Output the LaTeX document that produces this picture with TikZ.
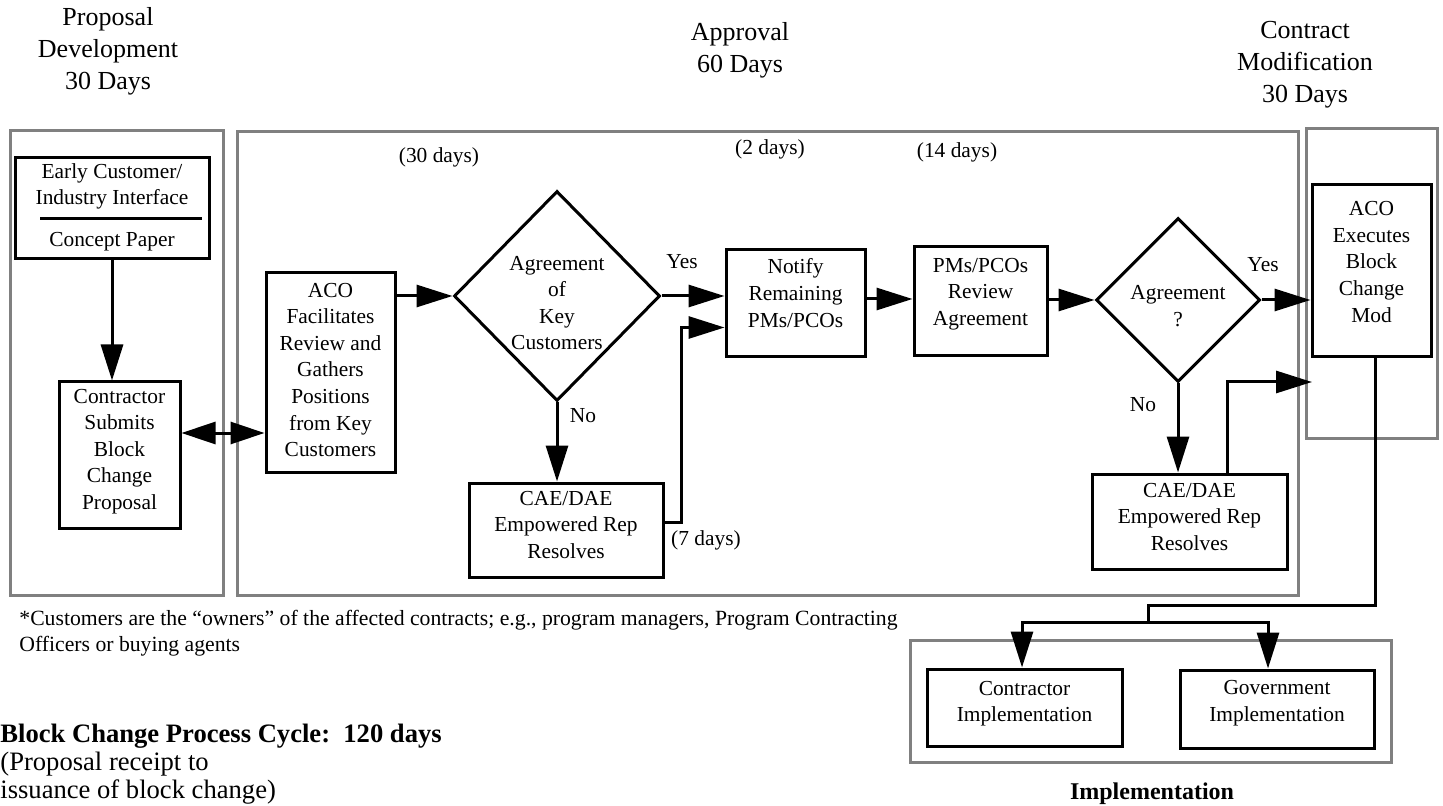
\documentclass[tikz,border=0pt]{standalone}
\usepackage{fontspec}
\setmainfont{Liberation Serif}
\usetikzlibrary{arrows.meta,shapes.geometric,calc}
\definecolor{grp}{RGB}{128,128,128}
\begin{document}
\begin{tikzpicture}[x=0.5pt,y=-0.5pt,
  box/.style={draw,line width=1.5pt,inner sep=0pt,rectangle},
  dia/.style={draw,line width=1.5pt,inner sep=0pt,diamond},
  txt/.style={inner sep=0pt,align=center,font=\fontsize{10.7}{13.3}\selectfont},
  head/.style={inner sep=0pt,align=center,font=\fontsize{13}{16}\selectfont},
  grpbox/.style={draw=grp,line width=1.5pt},
  arr/.style={line width=1.5pt,-{Triangle[length=18pt,width=11pt]}},
  dblarr/.style={line width=1.5pt,{Triangle[length=17pt,width=11pt]}-{Triangle[length=17pt,width=11pt]}},
  ln/.style={line width=1.5pt},
  note/.style={inner sep=0pt,anchor=west}]
\useasboundingbox (0,0) rectangle (1443,806);

% headings
\node[head] (h1) at (108,51) {Proposal\\Development\\30 Days};
\node[head] (h2) at (740,50) {Approval\\60 Days};
\node[head] (h3) at (1305,65) {Contract\\Modification\\30 Days};

% group frames
\draw[grpbox] (10,131) rectangle (223,595);
\draw[grpbox] (237,132) rectangle (1298,595);
\draw[grpbox] (1306,129) rectangle (1437,438);
\draw[grpbox] (910,640) rectangle (1391,762);

% boxes
\node[box,minimum width=97pt,minimum height=50.5pt] (early) at (112,208.5) {};
\node[txt] (earlyT) at (112,207.5) {Early Customer/\\Industry Interface\\[7.7pt]Concept Paper};
\draw[ln] (40,219) -- (202,219);

\node[box,minimum width=60.5pt,minimum height=73pt] (contr) at (119.5,455) {};
\node[txt] (contrT) at (119.5,451.5) {Contractor\\Submits\\Block\\Change\\Proposal};

\node[box,minimum width=64.5pt,minimum height=99.5pt] (aco) at (330.5,372.5) {};
\node[txt] (acoT) at (330.5,370) {ACO\\Facilitates\\Review and\\Gathers\\Positions\\from Key\\Customers};

\node[dia,minimum width=103pt,minimum height=105pt] (d1) at (557,296) {};
\node[txt] (d1T) at (557,303) {Agreement\\of\\Key\\Customers};

\node[box,minimum width=69.5pt,minimum height=53.5pt] (notify) at (795.5,303.5) {};
\node[txt] (notifyT) at (795.5,293) {Notify\\Remaining\\PMs/PCOs};

\node[box,minimum width=66.5pt,minimum height=54.5pt] (pms) at (980.5,301.5) {};
\node[txt] (pmsT) at (980.5,294) {PMs/PCOs\\Review\\Agreement};

\node[dia,minimum width=82pt,minimum height=82pt] (d2) at (1178,300) {};
\node[txt] (d2T) at (1178,306) {Agreement\\?};

\node[box,minimum width=59.5pt,minimum height=86pt] (acoX) at (1371.5,271) {};
\node[txt] (acoXT) at (1371.5,262) {ACO\\Executes\\Block\\Change\\Mod};

\node[box,minimum width=97pt,minimum height=47pt] (cae1) at (566,530) {};
\node[txt] (cae1T) at (566,525) {CAE/DAE\\Empowered Rep\\Resolves};

\node[box,minimum width=97.5pt,minimum height=47.5pt] (cae2) at (1189.5,521.5) {};
\node[txt] (cae2T) at (1189.5,517) {CAE/DAE\\Empowered Rep\\Resolves};

\node[box,minimum width=97.5pt,minimum height=38.5pt] (cimpl) at (1024.5,707.5) {};
\node[txt] (cimplT) at (1024.5,703.5) {Contractor\\Implementation};

\node[box,minimum width=97pt,minimum height=39pt] (gimpl) at (1277,709) {};
\node[txt] (gimplT) at (1277,703) {Government\\Implementation};

% labels
\node[txt] (y1) at (682,262) {Yes};
\node[txt] (n1) at (583,416) {No};
\node[txt] (y2) at (1263,265) {Yes};
\node[txt] (n2) at (1143,405) {No};
\node[txt] (t30) at (439,157) {(30 days)};
\node[txt] (t2) at (770,149) {(2 days)};
\node[txt] (t14) at (957,152) {(14 days)};
\node[txt] (t7) at (706,540) {(7 days)};

% connectors
\draw[arr] (early.south) -- (early.south |- contr.north);
\draw[dblarr] ([yshift=11pt]contr.east) -- ([yshift=11pt]contr.east -| aco.west);
\draw[arr] (aco.east |- d1.west) -- (d1.west);
\draw[arr] (d1.east) -- (d1.east -| notify.west);
\draw[arr] (d1.south) -- (d1.south |- cae1.north);
\draw[arr] ([yshift=4pt]cae1.east) -- ++(17,0) |- ([yshift=-12pt]notify.west);
\draw[arr] (notify.east |- 0,299) -- (pms.west |- 0,299);
\draw[arr] (pms.east |- d2.west) -- (d2.west);
\draw[arr] (d2.east) -- (d2.east -| acoX.west);
\draw[arr] (d2.south) -- (d2.south |- cae2.north);
\coordinate (m2) at (1312,382);
\draw[arr] ([xshift=18.75pt]cae2.north) |- (m2);
\coordinate (j1) at (1148,605);
\coordinate (j2) at (1148,622);
\draw[ln] ([xshift=2pt]acoX.south) |- (j1) -- (j2);
\draw[arr] (j2) -| ([xshift=-1.25pt]cimpl.north);
\draw[arr] (j2) -| ([xshift=-4.5pt]gimpl.north);

% notes
\node[note,font=\fontsize{10.85}{13}\selectfont] (fn1) at (19,620) {*Customers are the “owners” of the affected contracts; e.g., program managers, Program Contracting};
\node[note,font=\fontsize{10.85}{13}\selectfont] (fn2) at (19,646) {Officers or buying agents};
\node[note,font=\fontsize{13.3}{15}\selectfont\bfseries] (bc1) at (0,736) {Block Change Process Cycle:\ \ 120 days};
\node[note,font=\fontsize{13.3}{15}\selectfont] (bc2) at (0,764) {(Proposal receipt to};
\node[note,font=\fontsize{13.3}{15}\selectfont] (bc3) at (0,792) {issuance of block change)};
\node[inner sep=0pt,font=\fontsize{12}{14}\selectfont\bfseries] (impl) at (1152,794) {Implementation};
\end{tikzpicture}
\end{document}
